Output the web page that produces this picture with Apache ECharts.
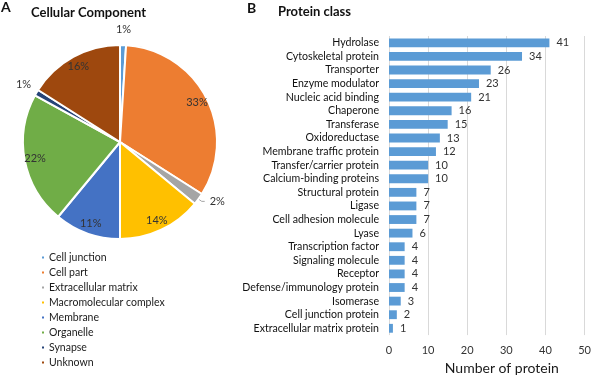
<!DOCTYPE html>
<html>
<head>
<meta charset="utf-8">
<script src="https://cdn.jsdelivr.net/npm/echarts@6/dist/echarts.min.js"></script>
<style>
  html, body { margin: 0; padding: 0; background: #fff; }
  #chart { width: 594px; height: 380px; }
</style>
</head>
<body>
<div id="chart"></div>
<script>
// panel A: cellular component (percent)
const componentNames = [
  "Cell junction", "Cell part", "Extracellular matrix", "Macromolecular complex",
  "Membrane", "Organelle", "Synapse", "Unknown"
];
const componentValues = [1, 33, 2, 14, 11, 22, 1, 16];
const componentColors = [
  "#5b9bd5", "#ed7d31", "#a5a5a5", "#ffc000",
  "#4472c4", "#70ad47", "#264478", "#9e480e"
];

// panel B: protein class (count)
const proteinClasses = [
  "Hydrolase", "Cytoskeletal protein", "Transporter", "Enzyme modulator",
  "Nucleic acid binding", "Chaperone", "Transferase", "Oxidoreductase",
  "Membrane traffic protein", "Transfer/carrier protein", "Calcium-binding proteins",
  "Structural protein", "Ligase", "Cell adhesion molecule", "Lyase",
  "Transcription factor", "Signaling molecule", "Receptor",
  "Defense/immunology protein", "Isomerase", "Cell junction protein",
  "Extracellular matrix protein"
];
const proteinCounts = [41, 34, 26, 23, 21, 16, 15, 13, 12, 10, 10, 7, 7, 7, 6, 4, 4, 4, 4, 3, 2, 1];

const font = "Lato";
const pieCenter = [120, 142];
const pieR = 97;
const smallCut = 3; // slices below this get labels outside the pie
const leaderSlice = "Extracellular matrix"; // the one outside label with a leader line

const pieData = componentNames.map((name, i) => ({
  name: name,
  value: componentValues[i],
  itemStyle: { color: componentColors[i] }
}));
const plainData = pieData.map(d => ({ name: d.name, value: d.value }));

const titleStyle = (size) => ({ fontSize: size, fontWeight: "bold", color: "#111", fontFamily: font });

const myChart = echarts.init(document.getElementById("chart"));
myChart.setOption({
  animation: false,
  textStyle: { fontFamily: font },
  title: [
    { text: "A", left: 1, top: 0, padding: 0, textStyle: titleStyle(14) },
    { text: "Cellular Component", left: 31, top: 6, padding: 0, textStyle: titleStyle(13) },
    { text: "B", left: 247, top: 1, padding: 0, textStyle: titleStyle(14) },
    { text: "Protein class", left: 278, top: 5, padding: 0, textStyle: titleStyle(13) }
  ],
  legend: {
    orient: "vertical",
    left: 35,
    top: 246,
    icon: "rect",
    itemWidth: 4,
    itemHeight: 4,
    itemGap: 2,
    selectedMode: false,
    data: componentNames,
    textStyle: { fontSize: 10.5, color: "#1a1a1a", lineHeight: 13, padding: [0, 0, 0, -1] }
  },
  grid: { left: 389, right: 6, top: 36, bottom: 44 },
  xAxis: {
    type: "value",
    min: 0,
    max: 50,
    interval: 10,
    name: "Number of protein",
    nameLocation: "middle",
    nameGap: 23,
    nameTextStyle: { fontSize: 14, color: "#1a1a1a", padding: [0, 0, 0, 30] },
    axisLine: { show: false },
    axisTick: { show: false },
    axisLabel: { fontSize: 11, color: "#333", margin: 10 },
    splitLine: { lineStyle: { color: "#d9d9d9", width: 1 } }
  },
  yAxis: {
    type: "category",
    inverse: true,
    data: proteinClasses,
    axisLine: { show: false },
    axisTick: { show: false },
    axisLabel: { fontSize: 10.6, color: "#111", margin: 10, interval: 0 }
  },
  series: [
    {
      type: "pie",
      center: pieCenter,
      radius: [0, pieR],
      startAngle: 90,
      clockwise: true,
      silent: true,
      itemStyle: { borderColor: "#fff", borderWidth: 2 },
      label: {
        show: true,
        position: "outside",
        fontSize: 11,
        color: "#333",
        overflow: "none",
        formatter: p => p.value + "%"
      },
      labelLine: { show: true, length: 4, length2: 3, lineStyle: { color: "#a5a5a5", width: 1 } },
      data: pieData.map(d => Object.assign({}, d, {
        label: { show: d.name === leaderSlice },
        labelLine: { show: d.name === leaderSlice }
      }))
    },
    {
      // transparent ring: places the large-slice labels near the rim
      type: "pie",
      center: pieCenter,
      radius: [pieR * 0.72, pieR],
      startAngle: 90,
      clockwise: true,
      silent: true,
      itemStyle: { color: "rgba(0,0,0,0)" },
      label: {
        show: true,
        position: "inside",
        fontSize: 11,
        color: "#333",
        formatter: p => (p.value >= smallCut ? p.value + "%" : "")
      },
      labelLine: { show: false },
      data: plainData
    },
    {
      // transparent ring outside the pie: labels for tiny slices without leader lines
      type: "pie",
      center: pieCenter,
      radius: [pieR, pieR * 1.25],
      startAngle: 90,
      clockwise: true,
      silent: true,
      itemStyle: { color: "rgba(0,0,0,0)" },
      label: {
        show: true,
        position: "inside",
        fontSize: 11,
        color: "#333",
        formatter: p => (p.value < smallCut && p.name !== leaderSlice ? p.value + "%" : "")
      },
      labelLine: { show: false },
      data: plainData
    },
    {
      type: "bar",
      data: proteinCounts,
      barCategoryGap: "35%",
      itemStyle: { color: "#5b9bd5" },
      label: { show: true, position: "right", distance: 7, fontSize: 11, color: "#333" }
    }
  ]
});
</script>
</body>
</html>
